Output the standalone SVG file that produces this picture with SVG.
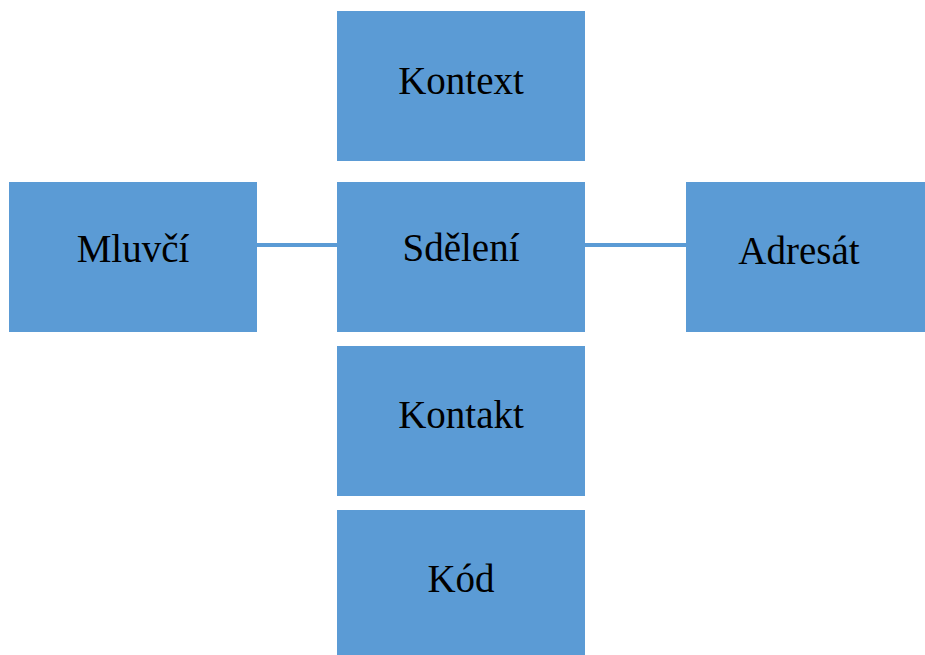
<svg xmlns="http://www.w3.org/2000/svg" width="925" height="655" viewBox="0 0 925 655">
<style>
.box{fill:#5B9BD5;}
.lbl{font-family:"Liberation Serif","Times New Roman",serif;font-size:39px;fill:#000;text-anchor:middle;}
.conn{stroke:#5B9BD5;stroke-width:4;fill:none;}
</style>
<rect width="925" height="655" fill="#fff"/>
<g id="connectors">
<line class="conn" x1="257" y1="245" x2="337" y2="245"/>
<line class="conn" x1="585" y1="245" x2="686" y2="245"/>
</g>
<g id="kontext"><rect class="box" x="337" y="11" width="248" height="150"/><text class="lbl" x="461" y="94">Kontext</text></g>
<g id="mluvci"><rect class="box" x="9" y="182" width="248" height="150"/><text class="lbl" x="133" y="262">Mluvčí</text></g>
<g id="sdeleni"><rect class="box" x="337" y="182" width="248" height="150"/><text class="lbl" x="461" y="261">Sdělení</text></g>
<g id="adresat"><rect class="box" x="686" y="182" width="248" height="150"/><text class="lbl" x="799" y="264">Adresát</text></g>
<g id="kontakt"><rect class="box" x="337" y="346" width="248" height="150"/><text class="lbl" x="461" y="428">Kontakt</text></g>
<g id="kod"><rect class="box" x="337" y="510" width="248" height="150"/><text class="lbl" x="461" y="592">Kód</text></g>
</svg>
